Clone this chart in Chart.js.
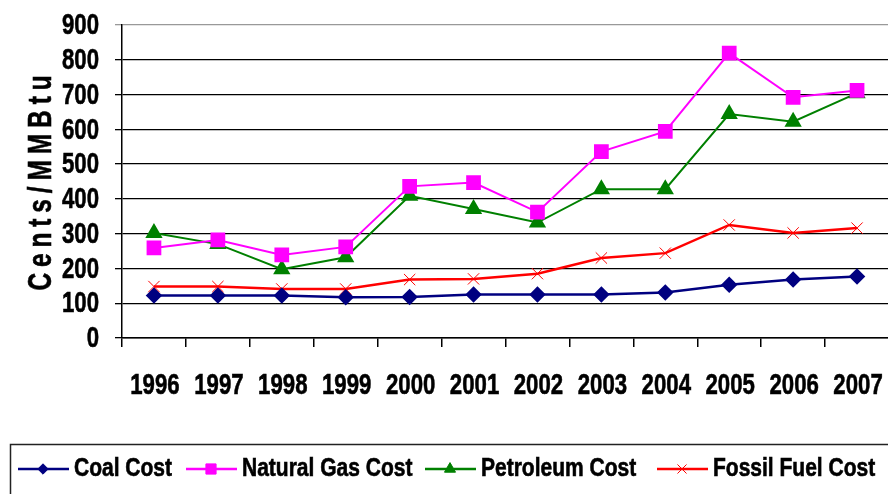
<!DOCTYPE html>
<html>
<head>
<meta charset="utf-8">
<script src="https://cdn.jsdelivr.net/npm/chart.js@4/dist/chart.umd.min.js"></script>
<style>
  html, body { margin: 0; padding: 0; background: #fff; overflow: hidden; }
  #wrap { width: 900px; height: 494px; position: relative; }
</style>
</head>
<body>
<div id="wrap"><canvas id="mycanvas"></canvas></div>
<script>
var years = ["1996", "1997", "1998", "1999", "2000", "2001", "2002", "2003", "2004", "2005", "2006", "2007"];
var coal_v = [122, 122, 122, 117, 118, 125, 125, 125, 131, 153, 168, 177];
var gas_v = [259, 282, 239, 262, 436, 447, 362, 536, 594, 819, 692, 712];
var petro_v = [302, 270, 198, 232, 409, 371, 332, 428, 428, 644, 622, 704];
var fossil_v = [148, 148, 141, 141, 168, 170, 185, 230, 244, 325, 302, 316];
var yTitle = "Cents/MMBtu";

var FONT = "'Liberation Sans', Arimo, Arial, sans-serif";
var legendX = [18, 186, 425, 657];

// narrow text: draw with a horizontal squeeze, a thin stroke makes it heavier
function narrowText(ctx, text, x, y, sx, align){
	ctx.save();
	ctx.translate(x, y);
	ctx.scale(sx, 1);
	ctx.textAlign = align;
	ctx.fillText(text, 0, 0);
	ctx.strokeStyle = ctx.fillStyle;
	ctx.lineWidth = 0.6;
	ctx.strokeText(text, 0, 0);
	ctx.restore();
}

// tick labels, y title and boxed legend, drawn by hand
var extras = {
	id: "extras",
	afterDraw: function(chart){
		var ctx = chart.ctx;
		var xs = chart.scales.x, ys = chart.scales.y;

		ctx.save();
		ctx.fillStyle = "#000";
		ctx.textBaseline = "middle";
		ctx.font = "bold 30px " + FONT;
		ys.ticks.forEach(function(t, i){
			narrowText(ctx, String(t.value), 99, ys.getPixelForTick(i) + 1, 0.74, "right");
		});
		xs.ticks.forEach(function(t, i){
			narrowText(ctx, years[i], xs.getPixelForTick(i) + 1, 386, 0.74, "center");
		});
		ctx.restore();

		ctx.save();
		ctx.fillStyle = "#000";
		ctx.font = "bold 33px " + FONT;
		ctx.letterSpacing = "8px";
		ctx.translate(42, 183);
		ctx.rotate(-Math.PI / 2);
		ctx.scale(0.74, 1);
		ctx.textAlign = "center";
		ctx.textBaseline = "middle";
		ctx.fillText(yTitle, 4, 0);
		ctx.strokeStyle = "#000";
		ctx.lineWidth = 0.6;
		ctx.strokeText(yTitle, 4, 0);
		ctx.restore();

		ctx.save();
		ctx.strokeStyle = "#222";
		ctx.lineWidth = 1.5;
		ctx.strokeRect(10.5, 444.5, 900, 100);
		ctx.font = "bold 25px " + FONT;
		ctx.textBaseline = "middle";
		var y = 469;
		chart.data.datasets.forEach(function(ds, i){
			var x = legendX[i];
			ctx.strokeStyle = ds.borderColor;
			ctx.lineWidth = 2.5;
			ctx.beginPath();
			ctx.moveTo(x, y);
			ctx.lineTo(x + 51, y);
			ctx.stroke();
			ctx.fillStyle = ds.pointBackgroundColor;
			ctx.strokeStyle = ds.borderColor;
			ctx.lineWidth = 1;
			Chart.helpers.drawPoint(ctx, {pointStyle: ds.pointStyle, radius: ds.pointRadius * 0.8, borderWidth: 1, rotation: 0}, x + 25, y);
			ctx.fillStyle = "#000";
			narrowText(ctx, ds.label, x + 56, y, 0.84, "left");
		});
		ctx.restore();
	}
};

var chartdata = {
	labels: years,
	datasets: [
		{
			label: "Coal Cost",
			data: coal_v,
			borderColor: "#000080",
			backgroundColor: "#000080",
			pointBackgroundColor: "#000080",
			pointStyle: "rectRot",
			pointRadius: 6.5,
			borderWidth: 2.5
		},
		{
			label: "Natural Gas Cost",
			data: gas_v,
			borderColor: "#ff00ff",
			backgroundColor: "#ff00ff",
			pointBackgroundColor: "#ff00ff",
			pointStyle: "rect",
			pointRadius: 9,
			borderWidth: 2
		},
		{
			label: "Petroleum Cost",
			data: petro_v,
			borderColor: "#008000",
			backgroundColor: "#008000",
			pointBackgroundColor: "#008000",
			pointStyle: "triangle",
			pointRadius: 8,
			borderWidth: 2
		},
		{
			label: "Fossil Fuel Cost",
			data: fossil_v,
			borderColor: "#ff0000",
			backgroundColor: "#ff0000",
			pointBackgroundColor: "#ff0000",
			pointStyle: "crossRot",
			pointRadius: 8,
			pointBorderWidth: 1,
			borderWidth: 2.5
		}
	]
};

var ctx = document.getElementById("mycanvas");

var LineGraph = new Chart(ctx, {
	type: "line",
	data: chartdata,
	plugins: [extras],
	options: {
		responsive: true,
		maintainAspectRatio: false,
		animation: false,
		layout: { padding: { left: 0, top: 25, right: 7, bottom: 60 } },
		plugins: {
			legend: { display: false },
			tooltip: { enabled: false }
		},
		elements: { line: { tension: 0 } },
		scales: {
			x: {
				offset: true,
				grid: { offset: true, drawOnChartArea: false, drawTicks: true, tickLength: 9, color: "#000", lineWidth: 1.5 },
				border: { color: "#000", width: 1.5 },
				ticks: { display: false, autoSkip: false, maxRotation: 0 },
				afterFit: function(scale){ scale.height = 96; }
			},
			y: {
				min: 0,
				max: 900,
				ticks: { display: false, stepSize: 100, autoSkip: false },
				grid: {
					tickLength: 7,
					lineWidth: 1.3,
					color: function(c){ return c.tick && c.tick.value === 900 ? "#999" : "#000"; }
				},
				border: { color: "#000", width: 1.5 },
				afterFit: function(scale){ scale.width = 122; }
			}
		}
	}
});
</script>
</body>
</html>
